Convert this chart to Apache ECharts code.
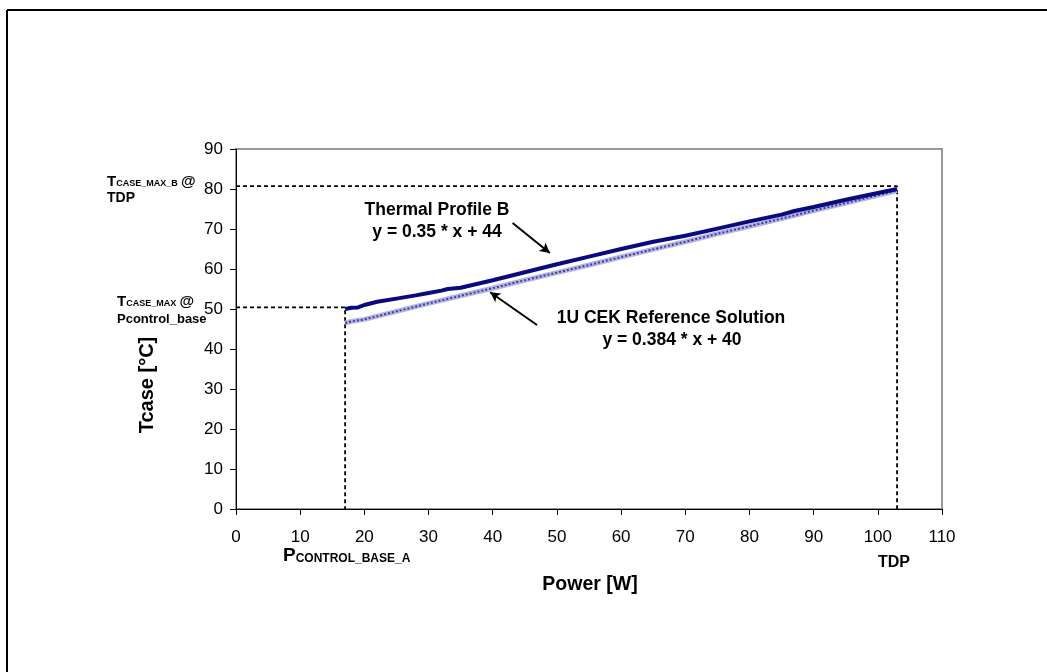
<!DOCTYPE html>
<html>
<head>
<meta charset="utf-8">
<script src="https://cdn.jsdelivr.net/npm/echarts@6/dist/echarts.min.js"></script>
<style>
  html, body { margin: 0; padding: 0; background: #fff; }
  #chart { width: 1047px; height: 672px; }
</style>
</head>
<body>
<div id="chart"></div>
<script>
// x ticks / y ticks
const xTicks = [0, 10, 20, 30, 40, 50, 60, 70, 80, 90, 100, 110]
const yTicks = [0, 10, 20, 30, 40, 50, 60, 70, 80, 90]

const profileB = [
  [17, 50.0], [18, 50.3], [19, 50.4], [20, 51.0], [22, 51.8], [25, 52.6],
  [28, 53.4], [30, 54.0], [32, 54.6], [33, 55.0], [35, 55.3], [40, 57.2],
  [45, 59.2], [50, 61.2], [55, 63.1], [60, 65.0], [65, 66.8], [70, 68.3],
  [75, 70.1], [80, 71.9], [85, 73.6], [87, 74.5], [90, 75.5], [95, 77.3],
  [100, 79.0], [103, 80.0]
]
// 1U CEK reference solution
const refSolution = [
  [17, 46.5], [18, 46.9], [20, 47.4], [25, 49.4], [30, 51.4], [35, 53.3],
  [40, 55.2], [45, 57.2], [50, 59.1], [55, 61.0], [60, 63.0], [65, 64.9],
  [70, 66.8], [75, 68.8], [80, 70.7], [85, 72.6], [90, 74.6], [95, 76.5],
  [100, 78.4], [103, 79.6]
]
// dashed guide lines
const guideTdp = [[0, 80.7], [103, 80.7], [103, 0]]
const guideBase = [[0, 50.4], [17, 50.4], [17, 0]]
// annotation arrows [tail, head]
const arrowB = [[43.1, 71.5], [48.9, 64.0]]
const arrowRef = [[46.9, 46.0], [39.6, 54.2]]

const chart = echarts.init(document.getElementById('chart'))
const font = 'Arial, "Liberation Sans", sans-serif'

const sub = (big, small) => ({
  big: { fontSize: big, fontWeight: 'bold', fontFamily: font, color: '#000' },
  small: { fontSize: small, fontWeight: 'bold', fontFamily: font, color: '#000', padding: [big * 0.3, 0, 0, 0] }
})

const centered = (x, y, text, size) => ({
  type: 'text', x: x, y: y,
  style: { text: text, font: 'bold ' + size + 'px ' + font, fill: '#000', textAlign: 'center', textVerticalAlign: 'middle' }
})

chart.setOption({
  animation: false,
  grid: { left: 236, right: 105, top: 149, bottom: 163, show: true, borderColor: '#999', borderWidth: 2 },
  xAxis: {
    type: 'value', min: 0, max: 110, interval: 10,
    axisLine: { show: true, onZero: false, lineStyle: { color: '#000', width: 1 } },
    axisTick: { show: true, length: 6, lineStyle: { color: '#000' } },
    axisLabel: { fontSize: 17, fontFamily: font, color: '#000', margin: 20,
      formatter: v => xTicks.includes(v) ? String(v) : '' },
    splitLine: { show: false }
  },
  yAxis: {
    type: 'value', min: 0, max: 90, interval: 10,
    axisLine: { show: true, lineStyle: { color: '#000', width: 1 } },
    axisTick: { show: true, length: 6, lineStyle: { color: '#000' } },
    axisLabel: { fontSize: 17, fontFamily: font, color: '#000', margin: 13,
      formatter: v => yTicks.includes(v) ? String(v) : '' },
    splitLine: { show: false }
  },
  series: [
    {
      name: 'guideTdp', type: 'line', data: guideTdp, symbol: 'none', silent: true,
      lineStyle: { color: '#000', width: 1.8, type: [4, 3] }, z: 1
    },
    {
      name: 'guideBase', type: 'line', data: guideBase, symbol: 'none', silent: true,
      lineStyle: { color: '#000', width: 1.8, type: [4, 3] }, z: 1,
      markLine: {
        silent: true, symbol: ['none', 'arrow'], symbolSize: [8, 10],
        label: { show: false },
        lineStyle: { color: '#000', width: 2, type: 'solid' },
        data: [
          [{ coord: arrowB[0] }, { coord: arrowB[1] }],
          [{ coord: arrowRef[0] }, { coord: arrowRef[1] }]
        ]
      }
    },
    {
      name: '1U CEK Reference Solution', type: 'line', data: refSolution, symbol: 'none',
      lineStyle: { color: '#b4b4e2', width: 5 }, z: 2
    },
    {
      name: '1U CEK Reference Solution (hatch)', type: 'line', data: refSolution, symbol: 'none',
      lineStyle: { color: '#3c3ca0', width: 2, type: [2, 2] }, z: 3
    },
    {
      name: 'Thermal Profile B', type: 'line', data: profileB, symbol: 'none',
      lineStyle: { color: '#0a0a80', width: 4 }, z: 4
    }
  ],
  graphic: [
    { type: 'line', shape: { x1: 7, y1: 10, x2: 1047, y2: 10 }, style: { stroke: '#000', lineWidth: 2 } },
    { type: 'line', shape: { x1: 7, y1: 10, x2: 7, y2: 672 }, style: { stroke: '#000', lineWidth: 2 } },
    centered(437, 210, 'Thermal Profile B', 17.5),
    centered(437, 232, 'y = 0.35 * x + 44', 17.5),
    centered(671, 318, '1U CEK Reference Solution', 17.5),
    centered(672, 340, 'y = 0.384 * x + 40', 17.5),
    centered(590, 585, 'Power [W]', 19.5),
    Object.assign(centered(147, 385, 'Tcase [°C]', 20), { rotation: Math.PI / 2 }),
    centered(894, 563, 'TDP', 16),
    { type: 'text', x: 107, y: 174, style: { text: '{big|T}{small|CASE_MAX_B} {big|@}', rich: sub(15, 9) } },
    { type: 'text', x: 107, y: 191, style: { text: 'TDP', font: 'bold 14px ' + font, fill: '#000' } },
    { type: 'text', x: 117, y: 294, style: { text: '{big|T}{small|CASE_MAX} {big|@}', rich: sub(15, 9) } },
    { type: 'text', x: 117, y: 313, style: { text: 'Pcontrol_base', font: 'bold 13px ' + font, fill: '#000' } },
    { type: 'text', x: 283, y: 546, style: { text: '{big|P}{small|CONTROL_BASE_A}', rich: sub(19, 12) } }
  ]
})
</script>
</body>
</html>
